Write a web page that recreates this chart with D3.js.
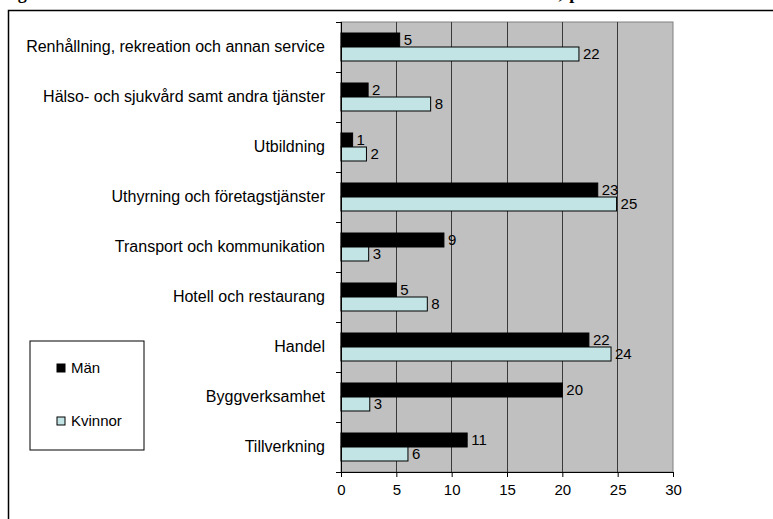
<!DOCTYPE html>
<html>
<head>
<meta charset="utf-8">
<script src="https://cdn.jsdelivr.net/npm/d3@7"></script>
<style>
  body { margin: 0; background: #fff; }
  text { font-family: "Liberation Sans", Arial, sans-serif; }
</style>
</head>
<body>
<svg id="chart" width="773" height="519"></svg>
<script>
// categories top to bottom
const categories = ["Renhållning, rekreation och annan service", "Hälso- och sjukvård samt andra tjänster",
                    "Utbildning", "Uthyrning och företagstjänster", "Transport och kommunikation",
                    "Hotell och restaurang", "Handel", "Byggverksamhet", "Tillverkning"];
const series = ["Män", "Kvinnor"];
const manValues = [5.3, 2.45, 1.05, 23.2, 9.3, 5.0, 22.4, 20.0, 11.4];
const kvinnorValues = [21.5, 8.1, 2.3, 24.9, 2.5, 7.8, 24.4, 2.6, 6.05];
const xTicks = [0, 5, 10, 15, 20, 25, 30];
const title = "Figur 7. Anställda i olika branscher efter kön bland utrikes födda, procent";

const colors = {"Män": "#000000", "Kvinnor": "#c2e4e5"};

const svg = d3.select("#chart");
const plot = {left: 341, right: 673, top: 22, bottom: 472};

const rows = categories.map((c, i) => ({cat: c, "Män": manValues[i], "Kvinnor": kvinnorValues[i]}));

// title sits above the visible area, only descenders show
svg.append("text").attr("x", 0).attr("y", -1)
    .attr("textLength", 633).attr("lengthAdjust", "spacing")
    .style("font-family", "'Liberation Serif', 'Times New Roman', serif")
    .style("font-weight", "bold").style("font-size", "18px")
    .text(title);
svg.append("path").attr("d", "M8.5,530 V10.5 H780")
    .attr("fill", "none").attr("stroke", "#000").attr("stroke-width", 1.5);

const x = d3.scaleLinear().domain([0, 30]).range([plot.left, plot.right]);
const y = d3.scaleBand().domain(categories).range([plot.top, plot.bottom]);
const inner = d3.scaleBand().domain(series).range([0, y.bandwidth()]).paddingOuter(0.786);

// plot background
svg.append("rect").attr("x", plot.left).attr("y", plot.top)
    .attr("width", plot.right - plot.left).attr("height", plot.bottom - plot.top)
    .attr("fill", "#c0c0c0").attr("stroke", "#808080");

// gridlines
svg.append("g").selectAll("line").data(xTicks.slice(1, -1)).join("line")
    .attr("x1", d => x(d)).attr("x2", d => x(d))
    .attr("y1", plot.top).attr("y2", plot.bottom)
    .attr("stroke", "#3a3a3a").attr("shape-rendering", "crispEdges");

// bars
const groups = svg.append("g").selectAll("g").data(rows).join("g")
    .attr("transform", d => `translate(0,${y(d.cat)})`);
groups.selectAll("rect").data(d => series.map(s => ({s: s, v: d[s]}))).join("rect")
    .attr("x", x(0)).attr("y", d => inner(d.s))
    .attr("width", d => x(d.v) - x(0)).attr("height", inner.bandwidth())
    .attr("fill", d => colors[d.s]).attr("stroke", "#000").attr("stroke-width", 1);
groups.selectAll("text").data(d => series.map(s => ({s: s, v: d[s]}))).join("text")
    .attr("x", d => x(d.v) + 4).attr("y", d => inner(d.s) + inner.bandwidth() / 2)
    .attr("dy", "0.35em").style("font-size", "15px").attr("fill", "#000")
    .text(d => d3.format(".0f")(d.v));

// y axis
const yAxis = svg.append("g").attr("transform", `translate(${plot.left},0)`)
    .call(d3.axisLeft(y).tickSize(0).tickPadding(16));
yAxis.select(".domain").remove();
yAxis.selectAll("text").style("font-size", "16px").style("font-family", "'Liberation Sans', Arial, sans-serif");
svg.append("g").selectAll("line").data(categories.map(c => y(c)).concat([plot.bottom])).join("line")
    .attr("x1", plot.left - 5).attr("x2", plot.left).attr("y1", d => d).attr("y2", d => d)
    .attr("stroke", "#000").attr("shape-rendering", "crispEdges");
svg.append("line").attr("x1", plot.left).attr("x2", plot.left).attr("y1", plot.top).attr("y2", plot.bottom)
    .attr("stroke", "#000").attr("shape-rendering", "crispEdges");

// x axis
const xAxis = svg.append("g").attr("transform", `translate(0,${plot.bottom})`)
    .call(d3.axisBottom(x).tickValues(xTicks).tickSize(5).tickPadding(7).tickSizeOuter(0));
xAxis.selectAll("text").style("font-size", "15px").style("font-family", "'Liberation Sans', Arial, sans-serif");
xAxis.selectAll("line, path").attr("stroke", "#000");

// legend
const legend = svg.append("g").attr("transform", "translate(30,341)");
legend.append("rect").attr("width", 114).attr("height", 109)
    .attr("fill", "#fff").attr("stroke", "#000");
const items = legend.selectAll("g").data(series).join("g")
    .attr("transform", (d, i) => `translate(27,${27 + i * 53})`);
items.append("rect").attr("y", -4).attr("width", 8).attr("height", 8)
    .attr("fill", d => colors[d]).attr("stroke", "#000");
items.append("text").attr("x", 14).attr("dy", "0.35em").style("font-size", "15px").text(d => d);
</script>
</body>
</html>
